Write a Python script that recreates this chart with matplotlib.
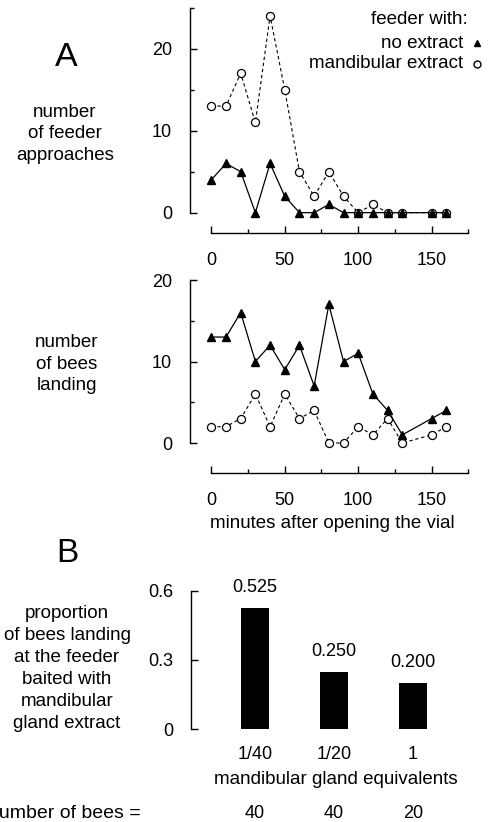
import matplotlib
matplotlib.use("Agg")
import matplotlib.pyplot as plt
from matplotlib.ticker import FixedLocator

plt.rcParams['font.family'] = ['Liberation Sans', 'DejaVu Sans']

# ---------------- data ----------------
minutes = [0, 10, 20, 30, 40, 50, 60, 70, 80, 90, 100, 110, 120, 130, 150, 160]
approach_no_extract = [4, 6, 5, 0, 6, 2, 0, 0, 1, 0, 0, 0, 0, 0, 0, 0]
approach_mandibular = [13, 13, 17, 11, 24, 15, 5, 2, 5, 2, 0, 1, 0, 0, 0, 0]
landing_no_extract = [13, 13, 16, 10, 12, 9, 12, 7, 17, 10, 11, 6, 4, 1, 3, 4]
landing_mandibular = [2, 2, 3, 6, 2, 6, 3, 4, 0, 0, 2, 1, 3, 0, 1, 2]

dose_labels = ["1/40", "1/20", "1"]
proportion_landing = [0.525, 0.250, 0.200]
n_bees = [40, 40, 20]

W, H = 491, 822
fig = plt.figure(figsize=(W / 100, H / 100), dpi=100)


def px_axes(left, top, right, bottom):
    return fig.add_axes([left / W, 1 - bottom / H, (right - left) / W, (bottom - top) / H])


def ftext(x, y, s, **kw):
    fig.text(x / W, 1 - y / H, s, **kw)


FS = 13.5
TFS = 13
LW = 1.0
LS = 1.37


def style_time_axes(ax, ytop, ymaj, ymin):
    for s in ['top', 'right']:
        ax.spines[s].set_visible(False)
    ax.spines['left'].set_bounds(0, ytop)
    ax.spines['bottom'].set_bounds(0, 175)
    for s in ['left', 'bottom']:
        ax.spines[s].set_linewidth(LW)
    ax.set_xlim(-14.5, 175)
    ax.xaxis.set_major_locator(FixedLocator([0, 50, 100, 150]))
    ax.xaxis.set_minor_locator(FixedLocator([25, 75, 125, 175]))
    ax.yaxis.set_major_locator(FixedLocator(ymaj))
    ax.yaxis.set_minor_locator(FixedLocator(ymin))
    ax.tick_params(which='both', direction='in', width=LW)
    ax.tick_params(which='major', length=5)
    ax.tick_params(which='minor', length=3)
    ax.tick_params(axis='x', which='major', pad=14, labelsize=TFS)
    ax.tick_params(axis='y', which='major', pad=13, labelsize=TFS)


def draw_series(ax, y_tri, y_circ):
    ax.plot(minutes, y_circ, color='black', lw=0.8, dashes=[3, 2.5],
            marker='o', markersize=5.8, markerfacecolor='white',
            markeredgecolor='black', markeredgewidth=0.9, zorder=2, clip_on=False)
    ax.plot(minutes, y_tri, color='black', lw=0.9, linestyle='-',
            marker='^', markersize=6.2, markerfacecolor='black',
            markeredgecolor='black', zorder=3, clip_on=False)


# ---------------- panel A top ----------------
ax1 = px_axes(190, 7.7, 468.4, 233)
ax1.set_ylim(-2.48, 25)
style_time_axes(ax1, 25, [0, 10, 20], [5, 15, 25])
draw_series(ax1, approach_no_extract, approach_mandibular)

# ---------------- panel A bottom ----------------
ax2 = px_axes(190, 280, 468.4, 473)
ax2.set_ylim(-3.68, 20)
style_time_axes(ax2, 20, [0, 10, 20], [5, 15])
draw_series(ax2, landing_no_extract, landing_mandibular)
ax2.set_xlabel("minutes after opening the vial", fontsize=FS)
ax2.xaxis.set_label_coords(0.51, (473 - 523) / 193)
ax2.xaxis.label.set_va('center')

# legend (manual)
ftext(468, 20, "feeder with:", ha='right', va='center', fontsize=FS)
ftext(463, 43, "no extract", ha='right', va='center', fontsize=FS)
ftext(463, 64, "mandibular extract", ha='right', va='center', fontsize=FS)
lg = fig.add_axes([0, 0, 1, 1], facecolor='none')
lg.set_xlim(0, W)
lg.set_ylim(H, 0)
lg.axis('off')
lg.plot([477], [43], marker='^', markersize=5, color='black', linestyle='none')
lg.plot([477], [64], marker='o', markersize=5, markerfacecolor='white',
        markeredgecolor='black', markeredgewidth=1.0, linestyle='none')

# side labels
ftext(66, 57, "A", ha='center', va='center', fontsize=24.5)
ftext(65, 134, "number\nof feeder\napproaches", ha='center', va='center',
      fontsize=FS, linespacing=LS)
ftext(67, 364, "number\nof bees\nlanding", ha='center', va='center',
      fontsize=FS, linespacing=LS)
ftext(67, 553, "B", ha='center', va='center', fontsize=24)
ftext(67, 668.5, "proportion\nof bees landing\nat the feeder\nbaited with\nmandibular\ngland extract",
      ha='center', va='center', fontsize=FS, linespacing=LS)

# ---------------- panel B ----------------
ax3 = px_axes(191, 590.7, 470, 729.3)
xpos = list(range(len(dose_labels)))
ax3.bar(xpos, proportion_landing, width=0.345, color='black')
ax3.set_xlim(-0.81, 2.72)
ax3.set_ylim(0, 0.6)
for s in ['top', 'right', 'bottom']:
    ax3.spines[s].set_visible(False)
ax3.spines['left'].set_linewidth(LW)
ax3.yaxis.set_major_locator(FixedLocator([0, 0.3, 0.6]))
ax3.set_yticklabels(["0", "0.3", "0.6"])
ax3.set_xticks(xpos)
ax3.set_xticklabels(dose_labels)
ax3.tick_params(axis='y', direction='in', length=5, width=LW, pad=13, labelsize=TFS)
ax3.tick_params(axis='x', length=0, pad=12, labelsize=TFS)
ax3.set_xlabel("mandibular gland equivalents", fontsize=FS)
ax3.xaxis.set_label_coords((336 - 191) / 279, (729.3 - 780) / 138.6)
ax3.xaxis.label.set_va('center')
for x, v in zip(xpos, proportion_landing):
    ax3.annotate(f"{v:.3f}", (x, v), xytext=(0, 14.5), textcoords='offset points',
                 ha='center', va='center', fontsize=TFS)
for x, n in zip(xpos, n_bees):
    ax3.annotate(str(n), (x, 0), xycoords=('data', 'axes fraction'),
                 xytext=(0, -(813 - 729.3) * 0.72), textcoords='offset points',
                 ha='center', va='center', fontsize=TFS, annotation_clip=False)
ftext(141, 813, "number of bees =", ha='right', va='center', fontsize=14)

fig.savefig("out.png", dpi=100)
